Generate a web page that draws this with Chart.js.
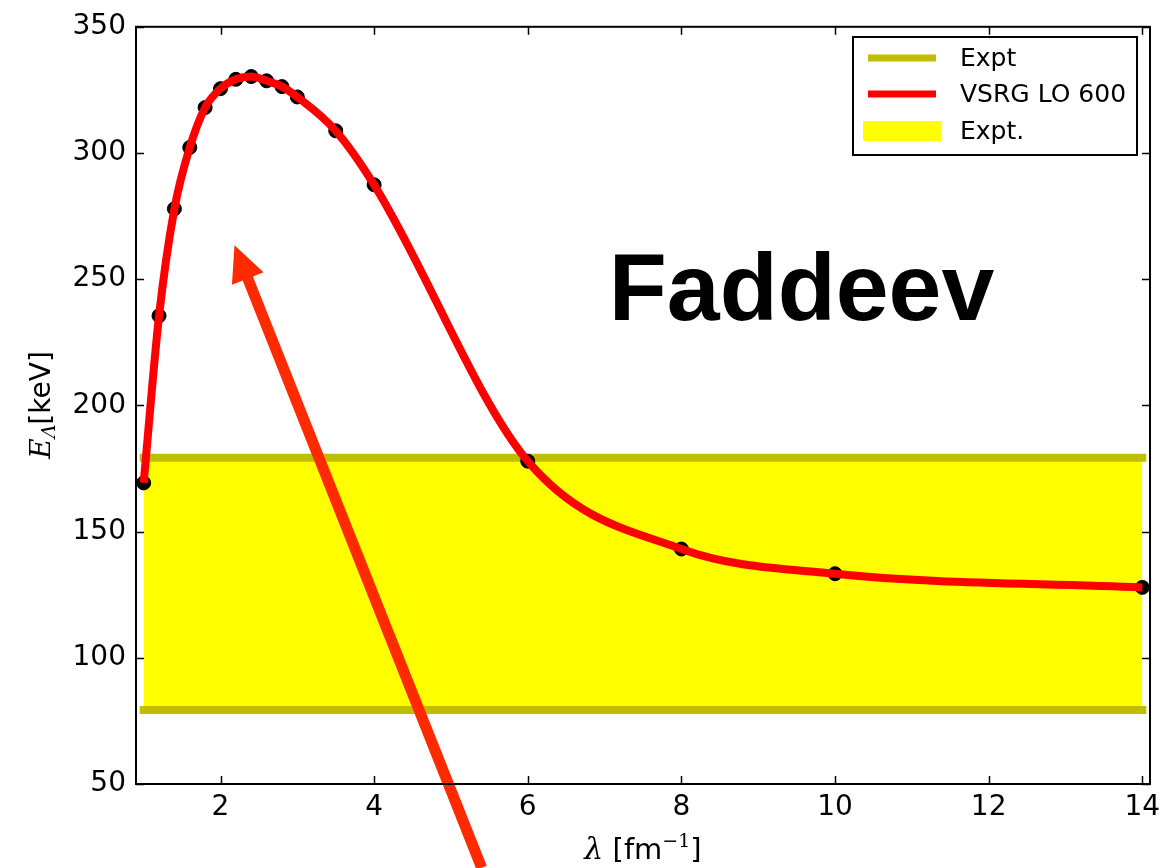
<!DOCTYPE html>
<html>
<head>
<meta charset="utf-8">
<script src="https://cdn.jsdelivr.net/npm/chart.js@4.4.1/dist/chart.umd.min.js"></script>
<style>
html,body{margin:0;padding:0;background:#fff;}
#wrap{width:1171px;height:868px;}
</style>
</head>
<body>
<div id="wrap"><canvas id="c" width="1171" height="868"></canvas></div>
<script>
// ---- data ----
const lambdaVals = [1.0,1.2,1.4,1.6,1.8,2.0,2.2,2.4,2.6,2.8,3.0,3.5,4.0,6.0,8.0,10.0,14.0];
const energyVals = [169.3,235.5,277.9,302.2,318.0,325.5,329.2,330.3,328.6,326.3,322.2,308.8,287.4,177.9,143.1,133.3,127.9];
const exptRangeX = [1.0, 14.0];
const exptLow = 79.3;
const exptHigh = 179.3;
const xTicks = [2,4,6,8,10,12,14];
const yTicks = [50,100,150,200,250,300,350];
const legendLabels = ['Expt','VSRG LO 600','Expt.'];
const panelLabel = 'Faddeev';
const arrowTail = {x:5.40, y:16.8};
const arrowTip = {x:2.182, y:263.5};
const panelLabelPos = {x:9.564, y:233.9};

const OLIVE = '#bfbf00', RED = '#ff0000', YELLOW = '#ffff00', ARROW = '#ff2a00';
const SANS = '"DejaVu Sans", sans-serif';
const SERIF = '"DejaVu Serif", serif';

const pts = lambdaVals.map((x,i)=>({x, y: energyVals[i]}));
const lowLine = exptRangeX.map(x=>({x, y: exptLow}));
const highLine = exptRangeX.map(x=>({x, y: exptHigh}));

const deco = {
  id: 'deco',
  afterDatasetsDraw(chart){
    const {ctx, scales:{x, y}} = chart;
    ctx.save();
    ctx.fillStyle = '#000';
    ctx.font = 'bold 95px "Liberation Sans", Arial, sans-serif';
    ctx.textAlign = 'center';
    ctx.textBaseline = 'alphabetic';
    ctx.fillText(panelLabel, x.getPixelForValue(panelLabelPos.x), y.getPixelForValue(panelLabelPos.y));
    ctx.restore();
    const tx = x.getPixelForValue(arrowTail.x), ty = y.getPixelForValue(arrowTail.y);
    const hx = x.getPixelForValue(arrowTip.x), hy = y.getPixelForValue(arrowTip.y);
    const dx = hx - tx, dy = hy - ty, L = Math.hypot(dx, dy);
    const ux = dx / L, uy = dy / L, nx = -uy, ny = ux;
    const headLen = 36, headW = 34, shaftW = 11;
    const bx = hx - ux*headLen, by = hy - uy*headLen;
    ctx.save();
    ctx.fillStyle = ARROW;
    ctx.beginPath();
    ctx.moveTo(tx + nx*shaftW/2, ty + ny*shaftW/2);
    ctx.lineTo(bx + nx*shaftW/2, by + ny*shaftW/2);
    ctx.lineTo(bx + nx*headW/2, by + ny*headW/2);
    ctx.lineTo(hx, hy);
    ctx.lineTo(bx - nx*headW/2, by - ny*headW/2);
    ctx.lineTo(bx - nx*shaftW/2, by - ny*shaftW/2);
    ctx.lineTo(tx - nx*shaftW/2, ty - ny*shaftW/2);
    ctx.closePath();
    ctx.fill();
    ctx.restore();
  },
  afterDraw(chart){
    const {ctx, chartArea:a, scales:{x, y}} = chart;
    ctx.save();
    ctx.strokeStyle = '#000';
    ctx.lineWidth = 2;
    ctx.strokeRect(a.left, a.top, a.right - a.left, a.bottom - a.top);
    ctx.lineWidth = 1.5;
    ctx.beginPath();
    xTicks.forEach(v=>{
      const px = Math.round(x.getPixelForValue(v)) + 0.5;
      ctx.moveTo(px, a.bottom); ctx.lineTo(px, a.bottom - 8);
      ctx.moveTo(px, a.top); ctx.lineTo(px, a.top + 8);
    });
    yTicks.forEach(v=>{
      const py = Math.round(y.getPixelForValue(v)) + 0.5;
      ctx.moveTo(a.left, py); ctx.lineTo(a.left + 8, py);
      ctx.moveTo(a.right, py); ctx.lineTo(a.right - 8, py);
    });
    ctx.stroke();

    // legend
    const lx = 853, ly = 37, lw = 284, lh = 118;
    ctx.fillStyle = '#fff';
    ctx.fillRect(lx, ly, lw, lh);
    ctx.lineWidth = 2;
    ctx.strokeStyle = '#000';
    ctx.strokeRect(lx, ly, lw, lh);
    const rows = [58, 94, 131];
    ctx.lineWidth = 7;
    ctx.strokeStyle = OLIVE;
    ctx.beginPath(); ctx.moveTo(868, rows[0]); ctx.lineTo(936, rows[0]); ctx.stroke();
    ctx.strokeStyle = RED;
    ctx.beginPath(); ctx.moveTo(868, rows[1]); ctx.lineTo(936, rows[1]); ctx.stroke();
    ctx.fillStyle = YELLOW;
    ctx.fillRect(863, rows[2] - 10, 78, 20);
    ctx.fillStyle = '#000';
    ctx.font = '25px ' + SANS;
    ctx.textAlign = 'left';
    ctx.textBaseline = 'middle';
    legendLabels.forEach((t,i)=> ctx.fillText(t, 960, rows[i] + 1));

    // x axis title
    ctx.textBaseline = 'alphabetic';
    const parts = [
      {t:'λ', f:'italic 30px ' + SERIF, dy:0},
      {t:' [fm', f:'29px ' + SANS, dy:0},
      {t:'−1', f:'19px ' + SERIF, dy:-12},
      {t:']', f:'29px ' + SANS, dy:0}
    ];
    let total = 0;
    parts.forEach(p=>{ ctx.font = p.f; p.w = ctx.measureText(p.t).width; total += p.w; });
    let cx = (a.left + a.right)/2 - total/2;
    const base = 859;
    parts.forEach(p=>{ ctx.font = p.f; ctx.fillText(p.t, cx, base + p.dy); cx += p.w; });

    // y axis title
    ctx.save();
    ctx.translate(50, 405);
    ctx.rotate(-Math.PI/2);
    const yparts = [
      {t:'E', f:'italic 28px ' + SERIF, dy:0},
      {t:'Λ', f:'italic 19px ' + SERIF, dy:5},
      {t:'[keV]', f:'28px ' + SANS, dy:0}
    ];
    let tot2 = 0;
    yparts.forEach(p=>{ ctx.font = p.f; p.w = ctx.measureText(p.t).width; tot2 += p.w; });
    let cy = -tot2/2;
    yparts.forEach(p=>{ ctx.font = p.f; ctx.fillText(p.t, cy, p.dy); cy += p.w; });
    ctx.restore();
    ctx.restore();
  }
};

new Chart(document.getElementById('c'), {
  type: 'scatter',
  data: {
    datasets: [
      { label: 'Expt', data: lowLine, showLine: true, borderColor: OLIVE, borderWidth: 8,
        borderCapStyle: 'square', pointRadius: 0, fill: false, order: 4 },
      { label: 'Expt.', data: highLine, showLine: true, borderColor: OLIVE, borderWidth: 8,
        borderCapStyle: 'square', pointRadius: 0, backgroundColor: YELLOW,
        fill: {target: 0}, order: 3 },
      { label: 'points', data: pts, showLine: false, pointRadius: 7,
        pointBackgroundColor: '#000', pointBorderColor: '#000', order: 2 },
      { label: 'VSRG LO 600', data: pts, showLine: true, borderColor: RED, borderWidth: 8,
        cubicInterpolationMode: 'monotone', pointRadius: 0, fill: false, order: 1 }
    ]
  },
  options: {
    responsive: false,
    animation: false,
    clip: false,
    layout: { padding: { left: 0, top: 24, right: 21, bottom: 0 } },
    plugins: { legend: { display: false }, tooltip: { enabled: false },
               filler: { drawTime: 'beforeDatasetsDraw' } },
    scales: {
      x: {
        type: 'linear', min: 0.9, max: 14.1,
        grid: { display: false, drawTicks: false },
        border: { display: false },
        afterBuildTicks: s => { s.ticks = xTicks.map(v=>({value:v})); },
        afterFit: s => { s.height = 84; },
        ticks: { color: '#000', font: { family: SANS, size: 28 }, padding: 7, maxRotation: 0,
                 callback: v => String(v) }
      },
      y: {
        type: 'linear', min: 50, max: 350,
        grid: { display: false, drawTicks: false },
        border: { display: false },
        afterBuildTicks: s => { s.ticks = yTicks.map(v=>({value:v})); },
        afterFit: s => { s.width = 136; },
        ticks: { color: '#000', font: { family: SANS, size: 28 }, padding: 10,
                 callback: v => String(v) }
      }
    }
  },
  plugins: [deco]
});
</script>
</body>
</html>
